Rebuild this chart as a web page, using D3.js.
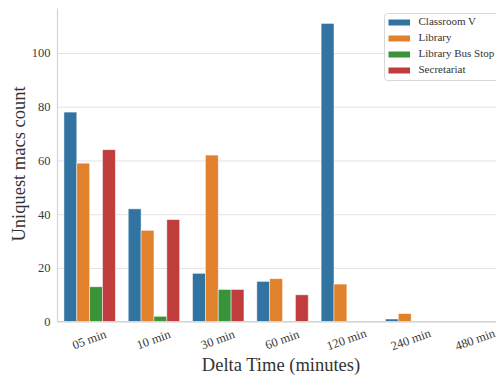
<!DOCTYPE html>
<html>
<head>
<meta charset="utf-8">
<script src="https://cdn.jsdelivr.net/npm/d3@7"></script>
<style>
  html, body { margin: 0; padding: 0; background: #fff; }
  svg { display: block; font-family: "Liberation Serif", "DejaVu Serif", serif; }
</style>
</head>
<body>
<svg id="chart" width="496" height="376"></svg>
<script>
// Unique MAC addresses seen per location, grouped by time window
const categories = ["05 min", "10 min", "30 min", "60 min", "120 min", "240 min", "480 min"];
const locations = ["Classroom V", "Library", "Library Bus Stop", "Secretariat"];
const classroomV = [78, 42, 18, 15, 111, 1, 0];
const library = [59, 34, 62, 16, 14, 3, 0];
const libraryBusStop = [13, 2, 12, 0, 0, 0, 0];
const secretariat = [64, 38, 12, 10, 0, 0, 0];
const colors = ["#3274a1", "#e1812c", "#3a923a", "#c03d3e"];
const yTicks = [0, 20, 40, 60, 80, 100];

const seriesValues = [classroomV, library, libraryBusStop, secretariat];

const svg = d3.select("#chart");
const plotLeft = 57.5, plotBottom = 321.7, plotTop = 8.5;
const step = 64.3;
const plotRight = plotLeft + step * categories.length;

const x = d3.scaleBand().domain(categories).range([plotLeft, plotRight]).paddingInner(0).paddingOuter(0);
const xs = d3.scaleBand().domain(locations).range([0, x.bandwidth() * 0.8]);
const yMax = d3.max(seriesValues.flat()) * 1.05;
const y = d3.scaleLinear().domain([0, yMax]).range([plotBottom, plotTop]);

// horizontal grid
const grid = svg.append("g")
  .attr("transform", `translate(${plotLeft},0)`)
  .call(d3.axisLeft(y).tickValues(yTicks).tickSize(-(plotRight - plotLeft)).tickFormat(""));
grid.select(".domain").remove();
grid.selectAll("line").attr("stroke", "#e3e3e3").attr("stroke-width", 1);

// bars
const groups = svg.append("g").selectAll("g")
  .data(categories)
  .join("g")
  .attr("transform", c => `translate(${x(c) + x.bandwidth() * 0.1},0)`);

groups.selectAll("rect")
  .data((c, i) => locations.map((loc, k) => ({ loc, k, v: seriesValues[k][i] })))
  .join("rect")
  .attr("x", d => xs(d.loc))
  .attr("width", xs.bandwidth())
  .attr("y", d => y(d.v))
  .attr("height", d => plotBottom - y(d.v))
  .attr("fill", d => colors[d.k])
  .attr("stroke", "rgba(255,255,255,0.6)")
  .attr("stroke-width", 0.8);

// spines
svg.append("line").attr("x1", plotLeft).attr("x2", plotLeft).attr("y1", plotTop).attr("y2", plotBottom)
  .attr("stroke", "#d4d4d4").attr("stroke-width", 1.2);
svg.append("line").attr("x1", plotLeft).attr("x2", plotRight).attr("y1", plotBottom).attr("y2", plotBottom)
  .attr("stroke", "#d4d4d4").attr("stroke-width", 1.2);

// y tick labels
const yAxis = svg.append("g")
  .attr("transform", `translate(${plotLeft},0)`)
  .call(d3.axisLeft(y).tickValues(yTicks).tickSize(0).tickPadding(7));
yAxis.select(".domain").remove();
yAxis.selectAll("text")
  .attr("font-family", "Liberation Serif, serif")
  .attr("font-size", 12.5)
  .attr("fill", "#3a3a3a");

// x tick labels, rotated
const xAxis = svg.append("g")
  .attr("transform", `translate(0,${plotBottom})`)
  .call(d3.axisBottom(x).tickSize(0).tickPadding(0));
xAxis.select(".domain").remove();
xAxis.selectAll("text")
  .attr("font-family", "Liberation Serif, serif")
  .attr("font-size", 12.5)
  .attr("fill", "#3a3a3a")
  .attr("text-anchor", "middle")
  .attr("dy", null)
  .attr("y", 0)
  .attr("transform", "translate(0,19) rotate(-20)")
  .attr("dominant-baseline", "middle");

// axis titles
svg.append("text")
  .attr("x", 281).attr("y", 371)
  .attr("text-anchor", "middle")
  .attr("font-size", 18.5)
  .attr("fill", "#333")
  .text("Delta Time (minutes)");

svg.append("text")
  .attr("transform", "translate(25,164) rotate(-90)")
  .attr("text-anchor", "middle")
  .attr("font-size", 18.5)
  .attr("fill", "#333")
  .text("Uniquest macs count");

// legend
const legend = svg.append("g").attr("transform", "translate(384.5,13.5)");
legend.append("rect")
  .attr("width", 140).attr("height", 67).attr("rx", 3)
  .attr("fill", "rgba(255,255,255,0.85)")
  .attr("stroke", "#d8d8d8").attr("stroke-width", 1);
const items = legend.selectAll("g.item")
  .data(locations)
  .join("g")
  .attr("class", "item")
  .attr("transform", (d, i) => `translate(0,${9 + i * 16})`);
items.append("rect")
  .attr("x", 4).attr("y", -3).attr("width", 21.5).attr("height", 6)
  .attr("fill", (d, i) => colors[i]);
items.append("text")
  .attr("x", 34).attr("y", 0)
  .attr("dominant-baseline", "middle")
  .attr("font-size", 11)
  .attr("fill", "#333")
  .text(d => d);
</script>
</body>
</html>
